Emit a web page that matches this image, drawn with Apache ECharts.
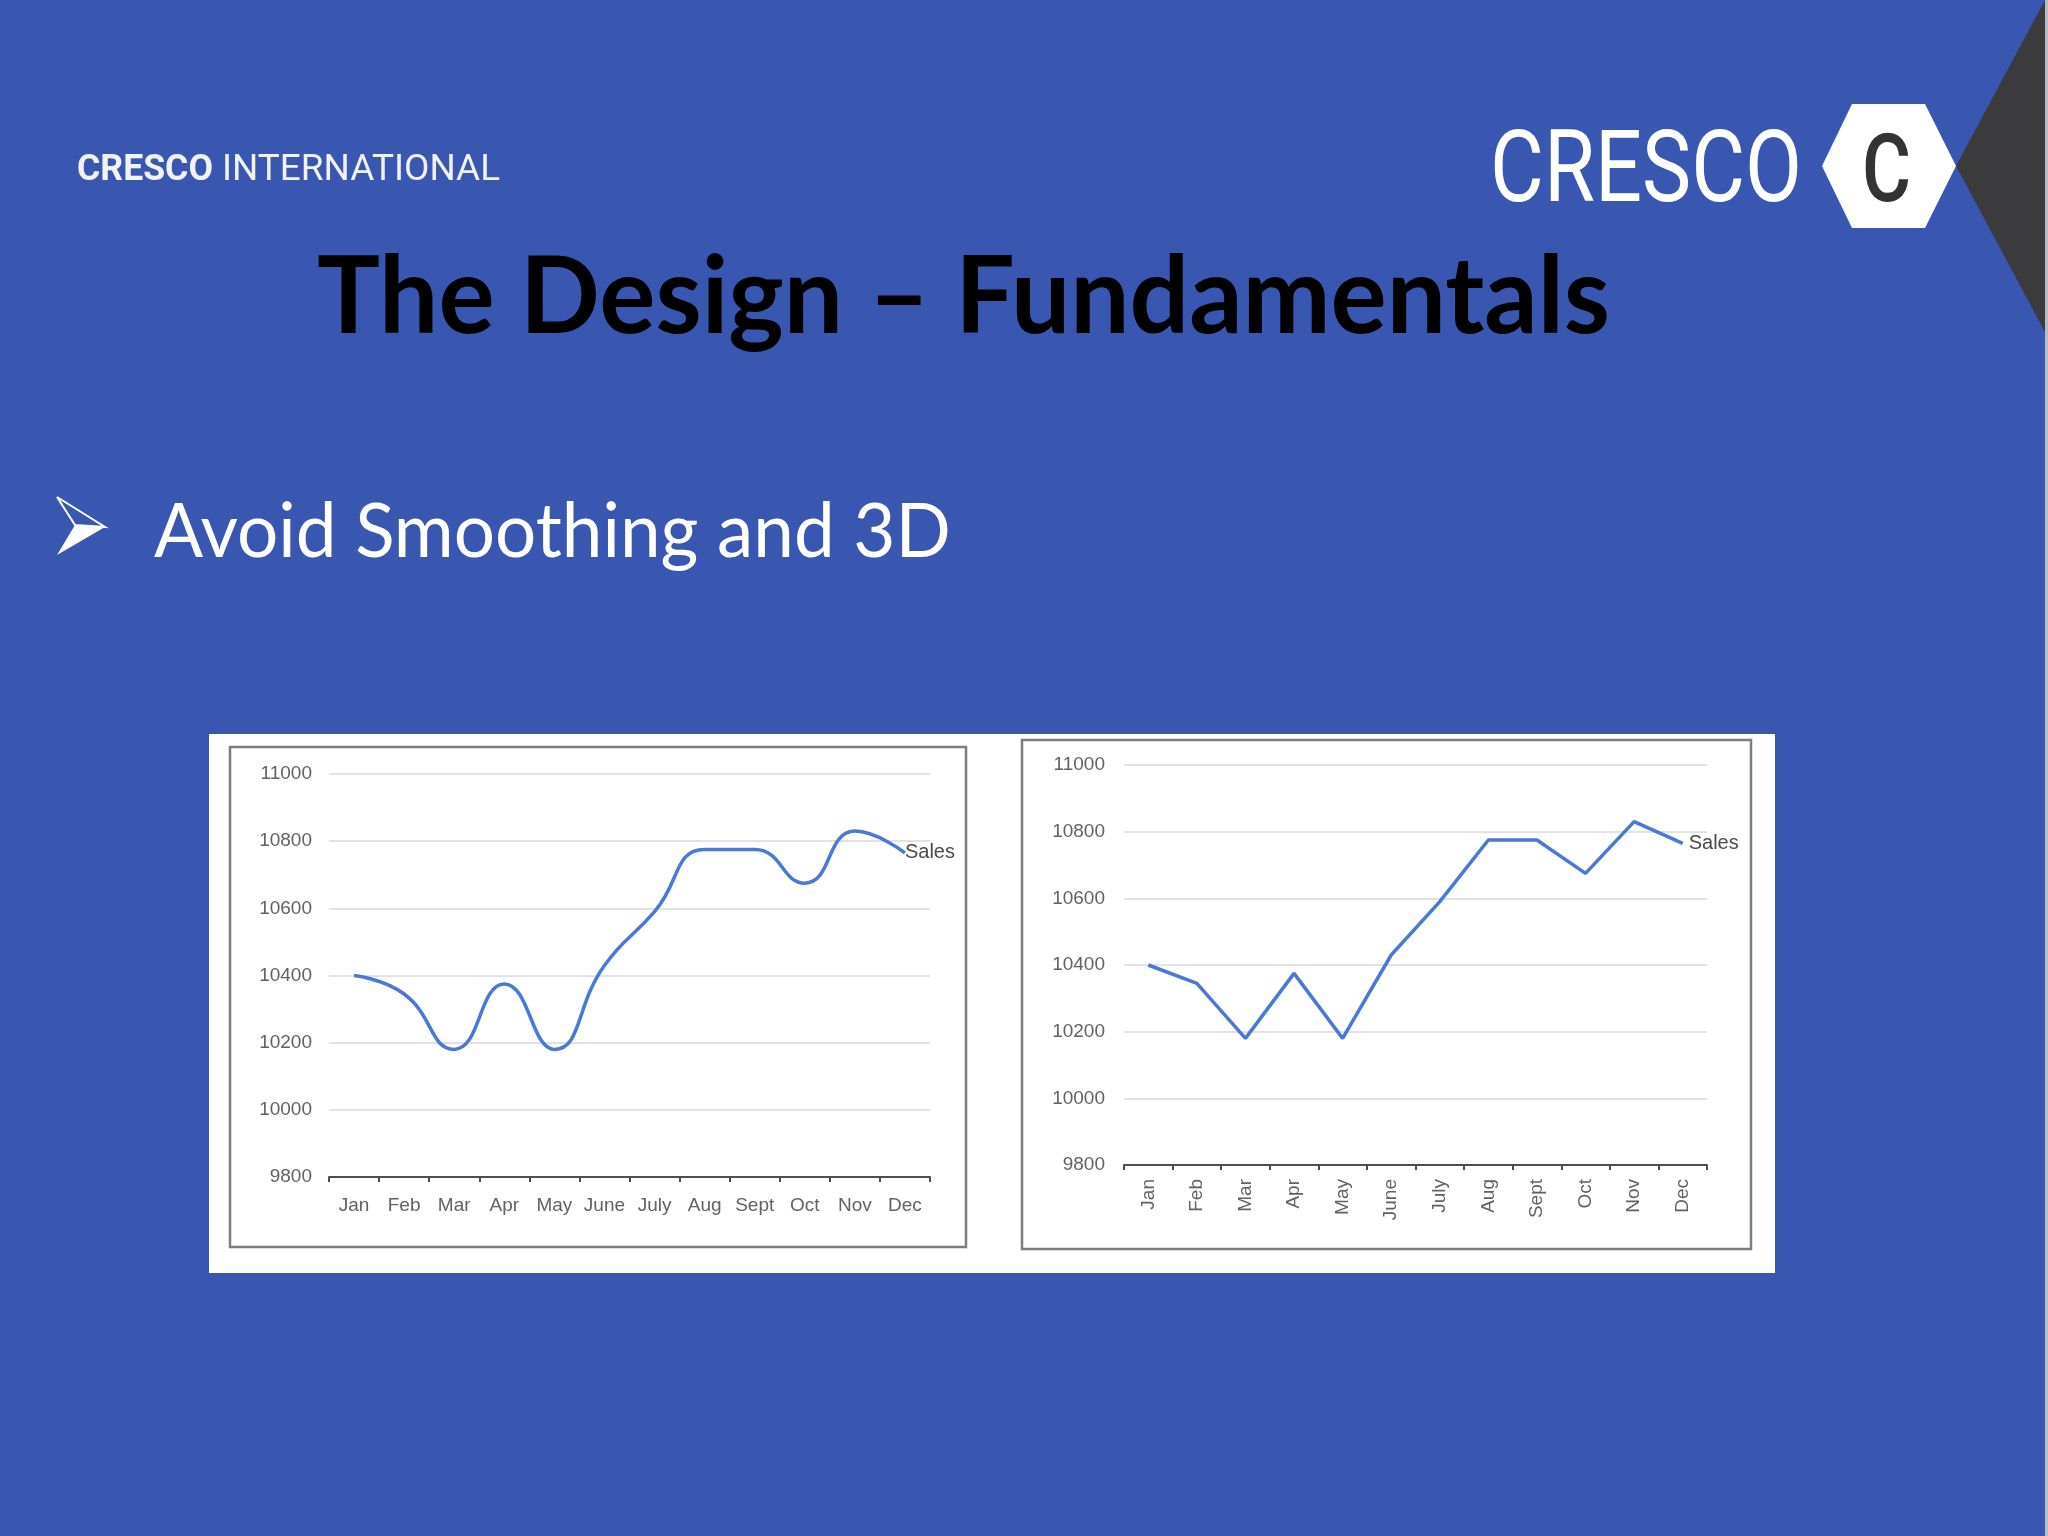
<!DOCTYPE html>
<html>
<head>
<meta charset="utf-8">
<style>
  html, body { margin: 0; padding: 0; background: #3956B1; }
  #chart { width: 2048px; height: 1536px; }
</style>
<script src="https://cdn.jsdelivr.net/npm/echarts@6/dist/echarts.min.js"></script>
</head>
<body>
<div id="chart"></div>
<script>
// ---- data ----
const months = ['Jan', 'Feb', 'Mar', 'Apr', 'May', 'June', 'July', 'Aug', 'Sept', 'Oct', 'Nov', 'Dec'];
const sales = [10400, 10345, 10180, 10375, 10180, 10430, 10590, 10775, 10775, 10675, 10830, 10765];
const seriesName = 'Sales';
const yMin = 9800;
const yMax = 11000;
const yStep = 200;
const slideTitle = 'The Design \u2013 Fundamentals';
const bulletText = 'Avoid Smoothing and 3D';
const brandBold = 'CRESCO';
const brandLight = 'INTERNATIONAL';
const logoText = 'CRESCO';
const logoLetter = 'C';

// ---- helpers ----
const measureCtx = document.createElement('canvas').getContext('2d');
function fitScale(text, weight, size, family, targetW) {
  measureCtx.font = weight + ' ' + size + 'px ' + family;
  return targetW / measureCtx.measureText(text).width;
}
function textEl(text, x, y, weight, size, family, fill, targetW, z) {
  const s = targetW ? fitScale(text, weight, size, family, targetW) : 1;
  return {
    type: 'text', x: x, y: y, scaleX: s, z: z || 5,
    style: { text: text, fontWeight: weight, fontSize: size, fontFamily: family,
             fill: fill, align: 'left', verticalAlign: 'middle' }
  };
}

const LINE_COLOR = '#4a78d8';
const LABEL_COLOR = '#636066';
const AXIS_FONT = 'Liberation Sans, Arial, sans-serif';

function makeX(gridIndex, rotate, margin) {
  return {
    type: 'category', gridIndex: gridIndex, data: months, boundaryGap: true,
    axisLine: { show: true, lineStyle: { color: '#4d4d4d', width: 2 } },
    axisTick: { show: true, length: 5, lineStyle: { color: '#4d4d4d', width: 2 } },
    axisLabel: { color: LABEL_COLOR, fontSize: 19, fontFamily: AXIS_FONT, rotate: rotate, margin: margin, interval: 0 },
    splitLine: { show: false }
  };
}
function makeY(gridIndex, margin) {
  return {
    type: 'value', gridIndex: gridIndex, min: yMin, max: yMax, interval: yStep,
    axisLine: { show: false }, axisTick: { show: false },
    axisLabel: { color: LABEL_COLOR, fontSize: 19, fontFamily: AXIS_FONT, margin: margin,
                 formatter: function (v) { return String(v); } },
    splitLine: { show: true, lineStyle: { color: '#e2e2e2', width: 2 } }
  };
}
function makeSeries(idx, smooth, dist) {
  return {
    type: 'line', name: seriesName, xAxisIndex: idx, yAxisIndex: idx, data: sales,
    smooth: smooth, showSymbol: false, symbol: 'none',
    lineStyle: { color: LINE_COLOR, width: 3.5 },
    endLabel: { show: true, formatter: seriesName, color: '#4a4a4a', fontSize: 20,
                fontFamily: AXIS_FONT, distance: dist },
    z: 3
  };
}

const graphics = [
  // white panel behind charts
  { type: 'rect', shape: { x: 209, y: 734, width: 1566, height: 539 }, style: { fill: '#ffffff' }, z: -10 },
  // chart frames
  { type: 'rect', shape: { x: 230, y: 747, width: 736, height: 500 }, style: { fill: 'none', stroke: '#7d7d7d', lineWidth: 2.5 }, z: -5 },
  { type: 'rect', shape: { x: 1022, y: 740, width: 729, height: 509 }, style: { fill: 'none', stroke: '#7d7d7d', lineWidth: 2.5 }, z: -5 },
  // dark triangle at right edge
  { type: 'polygon', shape: { points: [[2048, 0], [2045, 0], [1956, 166], [2045, 332], [2048, 332]] }, style: { fill: '#3b3b3d' }, z: -8 },
  { type: 'rect', shape: { x: 2045, y: 0, width: 3, height: 1536 }, style: { fill: '#b9bcc4' }, z: -7 },
  // hexagon logo
  { type: 'polygon', shape: { points: [[1822, 166], [1852, 104], [1925, 104], [1956, 166], [1925, 228], [1852, 228]] }, style: { fill: '#ffffff' }, z: -6 },
  // bullet arrow
  { type: 'polygon', shape: { points: [[75, 525], [105, 527], [57, 555]] }, style: { fill: '#ffffff' }, z: 5 },
  { type: 'polyline', shape: { points: [[57, 497], [105, 527], [75, 525], [57, 497]] }, style: { stroke: '#ffffff', lineWidth: 2, fill: 'none' }, z: 5 },
  // texts
  textEl(brandBold, 77, 171, 'bold', 36, 'Roboto', '#f2f2f4', 136),
  textEl(brandLight, 222, 171, 'normal', 36, 'Roboto', '#f2f2f4', 278),
  textEl(logoText, 1490, 176, 'normal', 100, 'Roboto', '#ffffff', 312),
  textEl(logoLetter, 1862, 177, '500', 94, 'Roboto', '#333336', 49),
  textEl(slideTitle, 317, 298, 'bold', 108, 'Lato', '#000000', 1293),
  textEl(bulletText, 154, 532, 'normal', 76, 'Lato', '#ffffff', 797)
];

const chart = echarts.init(document.getElementById('chart'), null, { renderer: 'canvas', width: 2048, height: 1536 });
chart.setOption({
  animation: false,
  backgroundColor: '#3956B1',
  grid: [
    { left: 329, top: 774, width: 601, height: 403, containLabel: false },
    { left: 1124, top: 765, width: 583, height: 400, containLabel: false }
  ],
  xAxis: [makeX(0, 0, 19), makeX(1, 90, 14)],
  yAxis: [makeY(0, 17), makeY(1, 19)],
  series: [makeSeries(0, 0.5, 0), makeSeries(1, false, 6)],
  graphic: { elements: graphics }
});
</script>
</body>
</html>
